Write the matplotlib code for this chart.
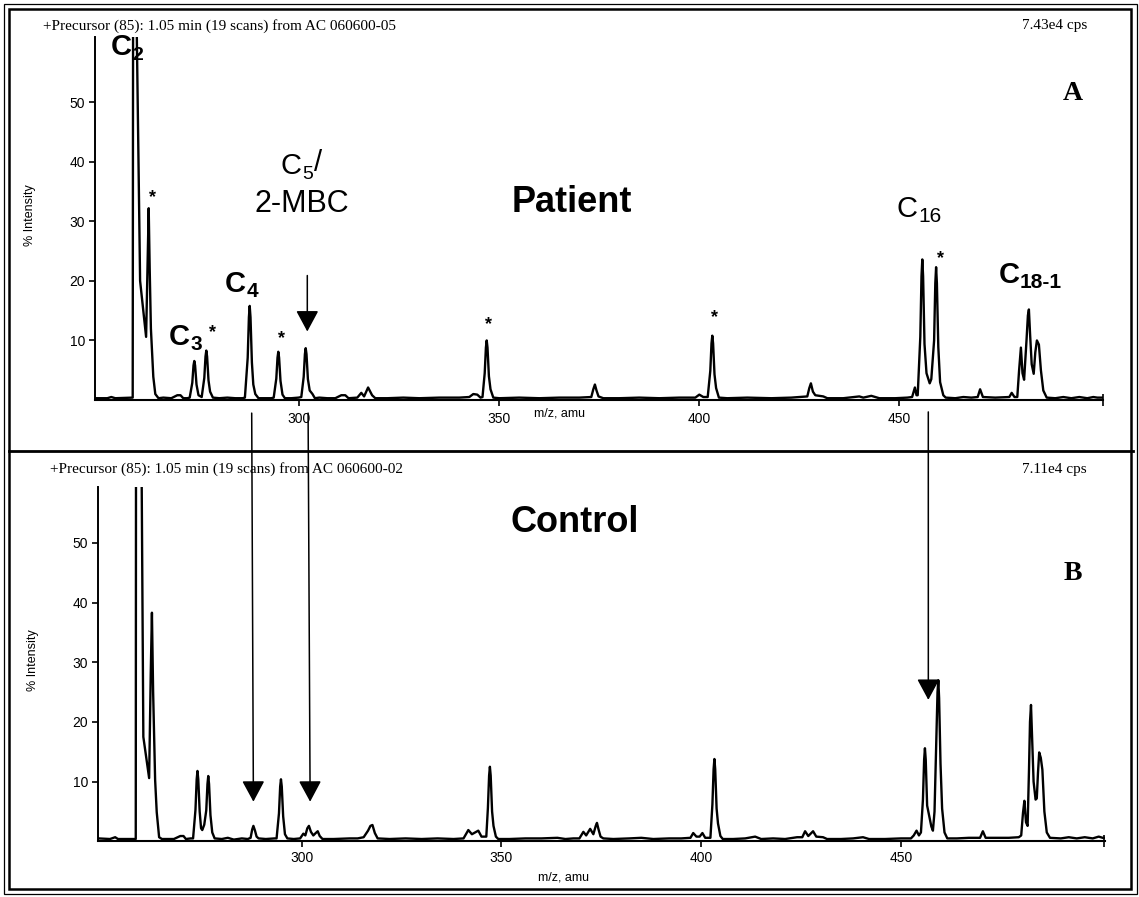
import matplotlib
matplotlib.use('Agg')
import matplotlib.pyplot as plt
from matplotlib.patches import Rectangle
from matplotlib.lines import Line2D

# ---------------- data ----------------
patient_trace = [
    (249.0, 0.3), (252.0, 0.3), (253.0, 0.5), (254.0, 0.3), (258.35, 0.4),
    (258.5, 100.0), (258.6, 100.0), (260.2, 20.0), (261.7, 10.6), (262.1, 24.0), (262.35, 32.2),
    (262.6, 22.0), (262.9, 12.0), (263.5, 3.9), (264.0, 1.0), (264.8, 0.3), (266.0, 0.4), (268.0, 0.3),
    (269.5, 0.8), (270.3, 0.8), (271.0, 0.3), (272.0, 0.3),
    (272.6, 0.4), (273.25, 2.9), (273.55, 5.8), (273.75, 6.55), (273.95, 5.8), (274.3, 2.6), (274.8, 0.8),
    (275.6, 0.5), (276.25, 3.7), (276.55, 7.3), (276.75, 8.3), (276.95, 7.3), (277.3, 3.3), (277.7, 1.4),
    (278.4, 0.4), (280.0, 0.3), (282.0, 0.4), (284.0, 0.3), (285.8, 0.3),
    (286.4, 0.4), (287.1, 7.1), (287.4, 13.9), (287.6, 15.8), (287.8, 13.9), (288.15, 6.3), (288.5, 2.6),
    (289.0, 1.0), (289.8, 0.3), (291.0, 0.3), (293.0, 0.3),
    (293.6, 0.4), (294.25, 3.6), (294.55, 7.1), (294.75, 8.1), (294.95, 7.1), (295.3, 3.2), (295.8, 0.9),
    (296.4, 0.3), (298.0, 0.3), (299.8, 0.4),
    (300.5, 0.5), (301.1, 3.9), (301.4, 7.7), (301.6, 8.7), (301.8, 7.7), (302.15, 3.5), (302.6, 1.6),
    (303.3, 1.0), (303.9, 0.3),
    (305.0, 0.4), (307.0, 0.3), (309.0, 0.3), (310.5, 0.8), (311.5, 0.8), (312.3, 0.3),
    (314.5, 0.4), (315.5, 1.2), (316.2, 0.6), (317.2, 2.1), (318.2, 0.8), (319.0, 0.3),
    (322.0, 0.3), (326.0, 0.4), (330.0, 0.3), (335.0, 0.4), (340.0, 0.4),
    (342.5, 0.5), (343.5, 1.0), (344.5, 0.9), (345.3, 0.4),
    (345.8, 0.5), (346.35, 4.5), (346.65, 8.8), (346.85, 10.0), (347.05, 8.8), (347.4, 4.0), (347.8, 1.8),
    (348.5, 0.4), (350.0, 0.3), (355.0, 0.4), (360.0, 0.3), (365.0, 0.4), (370.0, 0.4),
    (373.0, 0.5), (373.5, 1.8), (373.9, 2.6), (374.3, 1.6), (374.8, 0.6), (376.0, 0.3),
    (380.0, 0.3), (385.0, 0.4), (390.0, 0.3), (395.0, 0.4), (399.0, 0.4), (400.0, 0.9), (401.0, 0.5),
    (402.1, 0.5), (402.75, 4.9), (403.05, 9.5), (403.25, 10.8), (403.45, 9.5), (403.8, 4.3), (404.2, 2.0),
    (404.9, 0.4), (407.0, 0.3), (412.0, 0.4), (418.0, 0.3), (423.0, 0.4),
    (427.0, 0.6), (427.5, 2.0), (427.9, 2.8), (428.4, 1.4), (429.0, 0.8), (431.0, 0.6), (432.0, 0.3),
    (436.0, 0.3), (440.0, 0.6), (441.0, 0.4), (443.0, 0.7), (445.0, 0.3), (449.0, 0.3),
    (452.0, 0.4), (453.2, 0.5), (453.9, 2.1), (454.3, 0.8),
    (454.6, 0.8), (455.25, 10.6), (455.55, 20.8), (455.75, 23.6), (455.95, 20.8), (456.3, 9.4), (456.8, 4.5),
    (457.6, 2.8), (458.0, 3.5), (458.7, 10.0), (459.0, 19.6), (459.2, 22.3), (459.4, 19.6), (459.75, 8.9),
    (460.2, 3.0), (461.0, 0.8), (461.6, 0.4),
    (464.0, 0.3), (466.0, 0.5), (468.0, 0.4), (469.6, 0.5), (470.2, 1.8), (470.9, 0.5),
    (474.0, 0.4), (477.5, 0.5), (478.1, 1.2), (478.8, 0.5),
    (479.5, 0.5), (479.95, 5.0), (480.4, 8.8), (480.8, 4.5), (481.2, 3.4), (481.8, 10.0),
    (482.15, 14.2), (482.4, 15.2), (482.7, 11.0), (483.1, 6.0), (483.6, 4.4), (484.0, 8.0),
    (484.4, 10.0), (484.9, 9.3), (485.4, 5.0), (486.0, 1.6), (486.85, 0.4),
    (489.0, 0.3), (491.0, 0.5), (493.0, 0.3), (495.0, 0.5), (497.0, 0.3), (498.5, 0.5),
    (499.5, 0.4), (500.9, 0.4),
]

control_trace = [
    (249.1, 0.5), (252.0, 0.4), (253.3, 0.7), (254.0, 0.4), (258.45, 0.4),
    (258.55, 100.0), (259.55, 100.0), (260.35, 17.5), (261.8, 10.6), (262.2, 28.0), (262.5, 38.3),
    (262.8, 25.0), (263.3, 10.3), (263.7, 4.9), (264.3, 0.7), (265.0, 0.4), (268.0, 0.4),
    (269.6, 0.9), (270.4, 0.9), (271.0, 0.4), (272.2, 0.5),
    (272.8, 0.5), (273.4, 5.3), (273.7, 10.4), (273.9, 11.8), (274.1, 10.4), (274.45, 5.0), (274.8, 2.2),
    (275.1, 1.9), (275.6, 2.8), (276.1, 5.2), (276.4, 9.6), (276.6, 10.95), (276.8, 9.6), (277.15, 4.4),
    (277.6, 1.5), (278.2, 0.5),
    (280.0, 0.4), (281.5, 0.6), (283.0, 0.3), (285.0, 0.5), (286.5, 0.4),
    (287.2, 0.6), (287.6, 2.0), (287.9, 2.6), (288.3, 1.8), (288.7, 0.8), (289.2, 0.5),
    (291.0, 0.4), (293.2, 0.5),
    (293.7, 0.5), (294.3, 4.7), (294.6, 9.2), (294.8, 10.4), (295.0, 9.2), (295.35, 4.2), (295.8, 1.2),
    (296.4, 0.5), (298.0, 0.4), (299.6, 0.5), (300.4, 1.3), (300.9, 1.0), (301.4, 2.2), (301.8, 2.6),
    (302.3, 1.6), (302.9, 1.0), (303.5, 1.4), (304.0, 1.7), (304.5, 0.9), (305.2, 0.4),
    (308.0, 0.4), (312.0, 0.5), (314.0, 0.5), (315.5, 0.7), (316.6, 1.8), (317.2, 2.6), (317.7, 2.75),
    (318.3, 1.4), (319.0, 0.5),
    (322.0, 0.4), (326.0, 0.5), (330.0, 0.4), (334.0, 0.5), (338.0, 0.4), (340.5, 0.5),
    (341.7, 1.9), (342.6, 1.2), (344.2, 1.8), (345.0, 0.8), (345.8, 0.8),
    (346.2, 0.8), (346.6, 5.6), (346.9, 11.0), (347.1, 12.5), (347.3, 11.0), (347.65, 5.0), (348.0, 2.6),
    (348.6, 0.8), (349.2, 0.4),
    (352.0, 0.4), (356.0, 0.5), (360.0, 0.5), (364.0, 0.6), (366.0, 0.4), (368.0, 0.5),
    (369.5, 0.5), (370.5, 1.6), (371.2, 1.0), (372.2, 2.1), (373.0, 1.2), (373.6, 2.6), (373.9, 3.1),
    (374.3, 2.0), (374.8, 0.8), (375.5, 0.5),
    (378.0, 0.4), (382.0, 0.5), (385.0, 0.6), (388.0, 0.4), (392.0, 0.5), (395.0, 0.5),
    (397.3, 0.6), (398.0, 1.4), (398.8, 0.8), (399.6, 0.8), (400.3, 1.4), (401.0, 0.6), (401.8, 0.6),
    (402.3, 0.6), (402.8, 6.2), (403.1, 12.1), (403.3, 13.8), (403.5, 12.1), (403.85, 5.5), (404.2, 3.0),
    (404.8, 0.9), (405.4, 0.4),
    (408.0, 0.4), (411.0, 0.5), (413.5, 0.8), (415.0, 0.4), (418.0, 0.5), (421.0, 0.4),
    (424.0, 0.7), (425.3, 0.7), (426.0, 1.7), (426.8, 0.9), (428.0, 1.7), (428.8, 0.8),
    (430.5, 0.7), (431.5, 0.4),
    (435.0, 0.4), (438.0, 0.5), (440.5, 0.7), (442.0, 0.4), (446.0, 0.4), (450.0, 0.5),
    (452.5, 0.5), (453.2, 1.0), (453.9, 1.8), (454.5, 1.0),
    (455.0, 1.5), (455.5, 7.0), (455.8, 13.7), (456.0, 15.6), (456.2, 13.7), (456.55, 6.0), (457.0, 4.5),
    (457.6, 2.5), (458.0, 1.8), (458.4, 5.0), (458.85, 17.0), (459.15, 25.0), (459.35, 27.0),
    (459.55, 24.0), (459.9, 13.0), (460.3, 5.5), (460.9, 1.5), (461.6, 0.5),
    (464.0, 0.5), (467.0, 0.6), (469.8, 0.6), (470.5, 1.7), (471.2, 0.6), (474.0, 0.6),
    (477.0, 0.6), (479.5, 0.7),
    (480.1, 1.0), (480.55, 4.8), (480.9, 6.8), (481.3, 3.2), (481.7, 2.6), (482.05, 12.0),
    (482.3, 20.0), (482.55, 22.85), (482.8, 18.0), (483.2, 10.0), (483.7, 7.0), (484.0, 7.2),
    (484.3, 11.5), (484.6, 14.9), (485.0, 14.0), (485.4, 12.0), (485.9, 5.0), (486.5, 1.5), (487.3, 0.6),
    (490.0, 0.5), (492.0, 0.7), (494.0, 0.5), (496.0, 0.7), (498.0, 0.5), (499.5, 0.8),
    (500.5, 0.6), (501.0, 0.6),
]

x_ticks = [300, 350, 400, 450]
y_ticks = [10, 20, 30, 40, 50]

header_patient = "+Precursor (85): 1.05 min (19 scans) from AC 060600-05"
header_control = "+Precursor (85): 1.05 min (19 scans) from AC 060600-02"
cps_patient = "7.43e4 cps"
cps_control = "7.11e4 cps"

# star markers over impurity peaks (patient panel): (m/z, baseline height)
star_pos = [(263.4, 33.3), (278.35, 10.6), (295.6, 9.6), (347.4, 11.9), (403.9, 13.1), (460.2, 23.0)]

# ---------------- figure ----------------
W, H = 1139, 897
SANS = 'Liberation Sans'
SERIF = 'Liberation Serif'
plt.rcParams['font.family'] = [SANS, 'DejaVu Sans']

fig = plt.figure(figsize=(W / 100, H / 100), dpi=100)


def fx(px):
    return px / W


def fy(py):
    return 1 - py / H


ax1 = fig.add_axes([fx(95.3), fy(400), (1103.3 - 95.3) / W, (400 - 36.7) / H])
ax2 = fig.add_axes([fx(98.0), fy(841.4), (1104.7 - 98.0) / W, (841.4 - 486.7) / H])

for ax, trace, ytop, pad in ((ax1, patient_trace, 61.0, 4.5), (ax2, control_trace, 59.4, 3.0)):
    xs = [p[0] for p in trace]
    ys = [p[1] for p in trace]
    ax.plot(xs, ys, color='black', lw=1.7, solid_joinstyle='round')
    ax.set_xlim(249, 501)
    ax.set_ylim(0, ytop)
    ax.set_xticks(x_ticks)
    ax.set_yticks(y_ticks)
    ax.set_xticks([500.9], minor=True)
    ax.spines['top'].set_visible(False)
    ax.spines['right'].set_visible(False)
    ax.spines['left'].set_linewidth(1.4)
    ax.spines['bottom'].set_linewidth(1.5)
    ax.tick_params(axis='both', which='major', direction='out', length=4.2, width=1.2,
                   labelsize=10, color='black')
    ax.tick_params(axis='x', which='major', pad=pad)
    ax.tick_params(axis='y', which='major', pad=3)
    ax.tick_params(axis='x', which='minor', direction='inout', length=8, width=1.2)
    ax.patch.set_alpha(0)

# headers
fig.text(fx(43), fy(29.5), header_patient, family=SERIF, fontsize=11, ha='left', va='baseline')
fig.text(fx(1087), fy(29.5), cps_patient, family=SERIF, fontsize=11, ha='right', va='baseline')
fig.text(fx(50), fy(473), header_control, family=SERIF, fontsize=11, ha='left', va='baseline')
fig.text(fx(1087), fy(473), cps_control, family=SERIF, fontsize=11, ha='right', va='baseline')
fig.text(fx(1073), fy(100), 'A', family=SERIF, fontsize=20, fontweight='bold', ha='center', va='baseline')
fig.text(fx(1073), fy(580), 'B', family=SERIF, fontsize=20, fontweight='bold', ha='center', va='baseline')

# axis titles
fig.text(fx(30), fy(215), '% Intensity', fontsize=9, rotation=90, ha='center', va='center')
fig.text(fx(33), fy(660), '% Intensity', fontsize=9, rotation=90, ha='center', va='center')
fig.text(fx(560), fy(413), 'm/z, amu', fontsize=9, ha='center', va='center')
fig.text(fx(563), fy(877), 'm/z, amu', fontsize=9, ha='center', va='center')

# panel words
ax1.text(368.2, 31.6, 'Patient', fontsize=26, fontweight='bold', ha='center', va='baseline')
ax2.text(368.4, 51.8, 'Control', fontsize=26, fontweight='bold', ha='center', va='baseline')


def clabel(ax, x, y, main, sub, size, subsize, weight, drop=2.2, tail=None):
    t = ax.text(x, y, main, fontsize=size, fontweight=weight, ha='left', va='baseline')
    s = ax.annotate(sub, xy=(1, 0), xycoords=t, xytext=(0.3, -drop), textcoords='offset points',
                    fontsize=subsize, fontweight=weight, ha='left', va='bottom')
    if tail:
        ax.annotate(tail, xy=(1, 0), xycoords=s, xytext=(0.5, drop + 1.6), textcoords='offset points',
                    fontsize=size, fontweight=weight, ha='left', va='bottom')
    return t


clabel(ax1, 252.8, 58.0, 'C', '2', 21, 14, 'bold')
clabel(ax1, 267.4, 9.3, 'C', '3', 21, 15, 'bold')
clabel(ax1, 281.4, 18.2, 'C', '4', 21, 15, 'bold')
clabel(ax1, 295.4, 38.0, 'C', '5', 21, 14, 'normal', tail='/')
ax1.text(300.7, 31.6, '2-MBC', fontsize=22, ha='center', va='baseline')
clabel(ax1, 449.35, 30.8, 'C', '16', 21, 15, 'normal')
clabel(ax1, 474.75, 19.6, 'C', '18-1', 21, 15, 'bold')

for sx, sy in star_pos:
    ax1.text(sx, sy, '*', fontsize=13, fontweight='bold', ha='center', va='baseline')

# arrows
aprops = dict(arrowstyle='-|>,head_length=1.3,head_width=0.7', mutation_scale=10,
              lw=1.1, color='black', shrinkA=0, shrinkB=0)
ax1.annotate('', xy=(302.0, 11.5), xytext=(302.0, 20.9), arrowprops=aprops)
ax2.annotate('', xy=(287.9, 6.65), xytext=(288.1, -2.2), textcoords=ax1.transData,
             arrowprops=aprops, annotation_clip=False)
ax2.annotate('', xy=(302.1, 6.65), xytext=(302.2, -2.2), textcoords=ax1.transData,
             arrowprops=aprops, annotation_clip=False)
ax2.annotate('', xy=(456.85, 23.7), xytext=(457.25, -2.0), textcoords=ax1.transData,
             arrowprops=aprops, annotation_clip=False)


# frames
def frame(x0, y0, x1, y1, lw):
    fig.add_artist(Rectangle((fx(x0), fy(y1)), (x1 - x0) / W, (y1 - y0) / H,
                             transform=fig.transFigure, fill=False, lw=lw, ec='black'))


frame(4, 4, 1137, 894, 0.9)
frame(9, 9.5, 1131, 889, 1.8)
fig.add_artist(Line2D([fx(9), fx(1133)], [fy(450.5), fy(450.5)], transform=fig.transFigure,
                      lw=2.0, color='black'))

fig.savefig('out.png', dpi=100)
